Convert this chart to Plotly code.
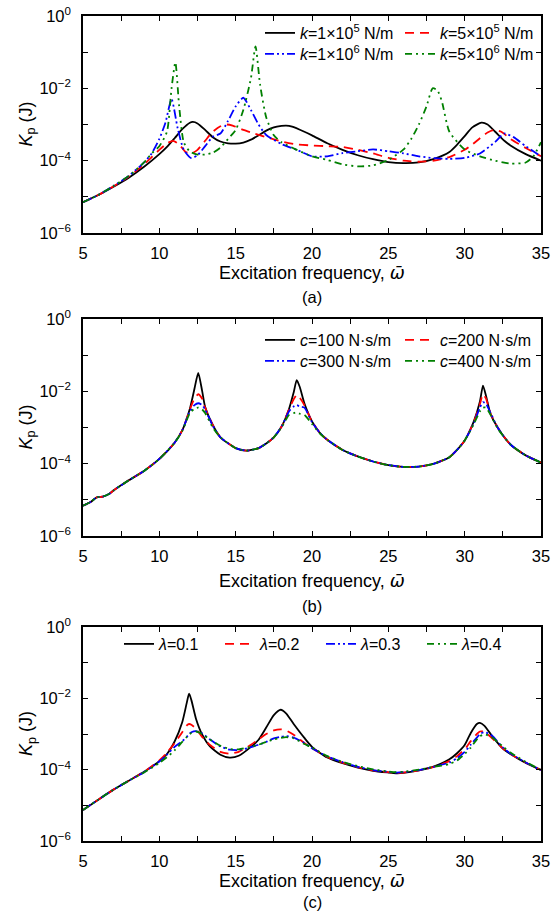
import numpy as np
import plotly.graph_objects as go

W, H = 555, 911

# ---------------- Panel (a): effect of stiffness k (values are log10 of Kp in J) ----------------
a_k1_x = [5,6,7,8,9,10,10.5,11,11.5,12,12.2,12.5,13,13.5,14,14.5,15,15.5,16,16.5,17,17.5,18,18.3,18.7,19.5,20,21,22,23,24,25,26,27,28,29,29.5,30,30.5,31.1,31.5,32,32.6,33,34,35]
a_k1_log = [-5.15,-4.95,-4.72,-4.47,-4.17,-3.82,-3.62,-3.38,-3.13,-2.95,-2.93,-2.97,-3.15,-3.35,-3.47,-3.52,-3.53,-3.5,-3.42,-3.3,-3.17,-3.08,-3.04,-3.03,-3.06,-3.2,-3.3,-3.52,-3.7,-3.85,-3.96,-4.04,-4.07,-4.05,-3.95,-3.76,-3.56,-3.32,-3.08,-2.95,-3.0,-3.2,-3.45,-3.58,-3.82,-4.0]

a_k2_x = [5,6,7,8,9,9.5,10,10.5,10.9,11.3,11.7,12.1,12.5,13,13.5,14,14.4,14.8,15.5,16,17,18,19,20,21,22,23,24,25,26,27,28,29,30,30.5,31,31.5,31.9,32.4,33,34,35]
a_k2_log = [-5.15,-4.95,-4.71,-4.44,-4.1,-3.9,-3.7,-3.52,-3.45,-3.55,-3.75,-3.8,-3.7,-3.45,-3.2,-3.05,-3.0,-3.03,-3.15,-3.22,-3.35,-3.47,-3.55,-3.58,-3.6,-3.62,-3.7,-3.8,-3.92,-4.0,-4.03,-4.0,-3.9,-3.7,-3.55,-3.38,-3.22,-3.15,-3.2,-3.4,-3.65,-3.88]

a_k3_x = [5,6,7,8,9,9.5,10,10.4,10.8,11.2,11.6,12.1,12.5,13,13.5,14,14.5,15,15.5,16,16.5,17,18,19,20,21,22,23,24,25,26,27,28,29,30,31,32,32.6,33.2,34,35]
a_k3_log = [-5.15,-4.95,-4.7,-4.42,-4.05,-3.8,-3.4,-2.95,-2.3,-3.1,-3.7,-3.93,-3.85,-3.6,-3.34,-3.25,-2.9,-2.5,-2.26,-2.6,-3.0,-3.29,-3.54,-3.7,-3.88,-3.88,-3.79,-3.74,-3.69,-3.74,-3.8,-3.88,-3.93,-3.95,-3.92,-3.8,-3.48,-3.25,-3.35,-3.6,-3.88]

a_k4_x = [5,6,7,8,9,9.5,10,10.5,10.8,11.05,11.3,11.6,12,12.5,13,13.5,14,14.5,15,15.5,16,16.3,16.6,17,17.5,18,19,20,21,22,23,24,25,26,26.5,27,27.5,27.9,28.2,28.5,29,30,31,32,33,34,34.5,35]
a_k4_log = [-5.15,-4.95,-4.7,-4.42,-4.05,-3.8,-3.6,-3.2,-2.0,-1.28,-2.5,-3.49,-3.75,-3.83,-3.83,-3.78,-3.64,-3.4,-3.15,-2.6,-1.72,-0.84,-1.9,-2.8,-3.3,-3.49,-3.7,-3.88,-3.98,-4.1,-4.16,-4.13,-3.98,-3.69,-3.4,-3.0,-2.5,-2.0,-2.05,-2.35,-3.2,-3.69,-3.88,-4.0,-4.08,-4.05,-3.88,-3.49]

a_names = ["<i>k</i>=1×10<sup>5</sup> N/m", "<i>k</i>=5×10<sup>5</sup> N/m",
           "<i>k</i>=1×10<sup>6</sup> N/m", "<i>k</i>=5×10<sup>6</sup> N/m"]

# ---------------- Panel (b): effect of damping c ----------------
b_x = [5,5.5,5.9,6.3,6.7,7,8,9,10,11,11.5,12,12.3,12.55,12.8,13,13.5,14,15,15.7,16.5,17,17.5,18,18.5,18.8,19.0,19.2,19.5,20,20.5,21,22,23,24,25,26,27,28,29,29.5,30,30.6,31.0,31.2,31.4,31.7,32.2,33,34,35]
b_c100_log = [-5.16,-5.06,-4.93,-4.91,-4.84,-4.74,-4.46,-4.2,-3.87,-3.42,-3.08,-2.48,-1.93,-1.49,-1.98,-2.43,-2.93,-3.27,-3.57,-3.64,-3.57,-3.44,-3.27,-2.98,-2.48,-2.03,-1.69,-1.88,-2.33,-2.83,-3.14,-3.34,-3.62,-3.8,-3.94,-4.04,-4.09,-4.08,-4.0,-3.82,-3.62,-3.36,-2.83,-2.28,-1.84,-2.13,-2.63,-3.03,-3.47,-3.77,-3.97]
b_c200_log = [-5.16,-5.06,-4.93,-4.91,-4.84,-4.74,-4.46,-4.2,-3.87,-3.42,-3.08,-2.5,-2.2,-2.08,-2.2,-2.45,-2.93,-3.27,-3.57,-3.64,-3.57,-3.44,-3.27,-2.98,-2.5,-2.22,-2.1,-2.18,-2.38,-2.83,-3.14,-3.34,-3.62,-3.8,-3.94,-4.04,-4.09,-4.08,-4.0,-3.82,-3.62,-3.36,-2.85,-2.35,-2.08,-2.2,-2.62,-3.03,-3.47,-3.77,-3.97]
b_c300_log = [-5.16,-5.06,-4.93,-4.91,-4.84,-4.74,-4.46,-4.2,-3.87,-3.42,-3.08,-2.55,-2.38,-2.33,-2.38,-2.5,-2.95,-3.27,-3.57,-3.64,-3.57,-3.44,-3.27,-2.98,-2.55,-2.42,-2.38,-2.42,-2.45,-2.85,-3.14,-3.34,-3.62,-3.8,-3.94,-4.04,-4.09,-4.08,-4.0,-3.82,-3.62,-3.36,-2.88,-2.45,-2.3,-2.35,-2.6,-3.03,-3.47,-3.77,-3.97]
b_c400_log = [-5.16,-5.06,-4.93,-4.91,-4.84,-4.74,-4.46,-4.2,-3.87,-3.42,-3.1,-2.6,-2.48,-2.45,-2.5,-2.6,-3.0,-3.27,-3.57,-3.64,-3.57,-3.44,-3.27,-3.0,-2.65,-2.6,-2.58,-2.62,-2.65,-2.9,-3.16,-3.34,-3.62,-3.8,-3.94,-4.04,-4.09,-4.08,-4.0,-3.82,-3.62,-3.36,-2.9,-2.55,-2.45,-2.45,-2.65,-3.05,-3.47,-3.77,-3.97]
b_names = ["<i>c</i>=100 N·s/m", "<i>c</i>=200 N·s/m", "<i>c</i>=300 N·s/m", "<i>c</i>=400 N·s/m"]

# ---------------- Panel (c): effect of lambda ----------------
c_x = [5,6,7,8,9,10,10.5,11,11.5,11.8,11.95,12.1,12.4,12.8,13.3,14,14.6,15.2,16,16.5,17,17.5,17.95,18.3,18.8,19.5,20,21,22,23,24,25,25.5,26,27,28,29,29.5,30,30.4,30.8,31.0,31.3,31.8,32.5,33,34,35]
c_l1_log = [-5.13,-4.84,-4.56,-4.31,-4.06,-3.76,-3.56,-3.21,-2.67,-2.12,-1.87,-2.05,-2.57,-3.01,-3.34,-3.58,-3.66,-3.61,-3.36,-3.16,-2.82,-2.47,-2.32,-2.42,-2.72,-3.11,-3.36,-3.66,-3.82,-3.94,-4.03,-4.08,-4.1,-4.09,-4.02,-3.91,-3.71,-3.54,-3.31,-2.97,-2.72,-2.69,-2.77,-3.06,-3.41,-3.56,-3.81,-4.01]
c_l2_log = [-5.13,-4.84,-4.56,-4.31,-4.06,-3.74,-3.52,-3.26,-2.95,-2.76,-2.72,-2.74,-2.85,-3.08,-3.3,-3.5,-3.55,-3.5,-3.3,-3.15,-3.0,-2.9,-2.87,-2.9,-3.02,-3.25,-3.4,-3.64,-3.8,-3.93,-4.02,-4.07,-4.09,-4.08,-4.02,-3.92,-3.76,-3.62,-3.43,-3.2,-3.0,-2.93,-2.94,-3.12,-3.4,-3.56,-3.8,-4.01]
c_l3_log = [-5.13,-4.84,-4.56,-4.31,-4.07,-3.77,-3.58,-3.36,-3.2,-3.08,-3.0,-2.95,-2.92,-2.98,-3.15,-3.35,-3.44,-3.45,-3.37,-3.3,-3.22,-3.12,-3.08,-3.06,-3.1,-3.25,-3.4,-3.63,-3.79,-3.92,-4.01,-4.06,-4.08,-4.07,-4.01,-3.92,-3.8,-3.68,-3.5,-3.3,-3.1,-3.0,-2.95,-3.05,-3.38,-3.55,-3.8,-4.01]
c_l4_log = [-5.13,-4.84,-4.56,-4.31,-4.08,-3.81,-3.65,-3.46,-3.22,-3.08,-3.02,-2.97,-2.93,-3.0,-3.15,-3.33,-3.42,-3.43,-3.36,-3.3,-3.22,-3.15,-3.11,-3.09,-3.12,-3.28,-3.38,-3.62,-3.78,-3.9,-3.99,-4.05,-4.07,-4.06,-4.0,-3.92,-3.84,-3.74,-3.56,-3.38,-3.15,-3.06,-3.01,-3.1,-3.35,-3.52,-3.78,-4.01]
c_names = ["<i>λ</i>=0.1", "<i>λ</i>=0.2", "<i>λ</i>=0.3", "<i>λ</i>=0.4"]

# ---------------- Axis tick labels ----------------
x_tickvals = [5, 10, 15, 20, 25, 30, 35]
x_minorvals = [7.5, 12.5, 17.5, 22.5, 27.5, 32.5]
y_tickvals = [1e-6, 1e-4, 1e-2, 1]
y_ticktext = ["10<sup>−6</sup>", "10<sup>−4</sup>", "10<sup>−2</sup>", "10<sup>0</sup>"]
y_minorvals = [1e-5, 1e-3, 1e-1]
x_title = 'Excitation frequency, <span style="font-family:DejaVu Sans"><i>ω\u0304</i></span>'
y_title = "<i>K</i><sub>p</sub> (J)"
panel_labels = ["(a)", "(b)", "(c)"]

# ---------------- Styles ----------------
FONT = "Liberation Sans, Arial, sans-serif"
colors = ["#000000", "#ff0000", "#0000ff", "#008000"]
dashes = ["solid", "9px,6px", "9px,3px,2px,3px,2px,3px", "7px,4px,2px,4px,2px,4px"]
LW = 1.8

X0, X1 = 83, 541
panels = [(16, 233), (319, 536), (627, 841)]
title_y = [272, 580, 880]
label_y = [297, 606, 902]


def fx(p):
    return p / W


def fy(p):
    return 1 - p / H


fig = go.Figure()

panel_data = [
    ([a_k1_x, a_k2_x, a_k3_x, a_k4_x], [a_k1_log, a_k2_log, a_k3_log, a_k4_log], a_names,
     ["legend", "legend", "legend2", "legend2"]),
    ([b_x] * 4, [b_c100_log, b_c200_log, b_c300_log, b_c400_log], b_names,
     ["legend3", "legend3", "legend4", "legend4"]),
    ([c_x] * 4, [c_l1_log, c_l2_log, c_l3_log, c_l4_log], c_names,
     ["legend5"] * 4),
]

for p, (xs, logs, names, legs) in enumerate(panel_data):
    sfx = "" if p == 0 else str(p + 1)
    for s in range(4):
        fig.add_trace(go.Scatter(
            x=xs[s], y=np.power(10.0, np.array(logs[s])), mode="lines", name=names[s],
            line=dict(color=colors[s], dash=dashes[s], width=LW, shape="spline", smoothing=0.6),
            xaxis="x" + sfx, yaxis="y" + sfx, legend=legs[s], showlegend=True,
        ))

axis_common = dict(showline=True, linecolor="black", linewidth=1.5, mirror="ticks",
                   ticks="inside", ticklen=5, tickwidth=1.2, tickcolor="black",
                   showgrid=False, zeroline=False, automargin=False,
                   tickfont=dict(family=FONT, size=16.5, color="black"))

layout = dict(width=W, height=H, margin=dict(l=0, r=0, t=0, b=0),
              paper_bgcolor="white", plot_bgcolor="white", showlegend=True,
              font=dict(family=FONT, color="black"))

for p, (top, bot) in enumerate(panels):
    sfx = "" if p == 0 else str(p + 1)
    layout["xaxis" + sfx] = dict(axis_common, domain=[fx(X0), fx(X1)], anchor="y" + sfx,
                                 range=[5, 35], tickmode="array", tickvals=x_tickvals,
                                 ticklabelstandoff=4,
                                 minor=dict(tickmode="array", tickvals=x_minorvals, ticks="inside",
                                            ticklen=5, tickwidth=1.2, tickcolor="black"))
    layout["yaxis" + sfx] = dict(axis_common, domain=[fy(bot), fy(top)], anchor="x" + sfx,
                                 type="log", range=[-6, 0], tickmode="array",
                                 tickvals=y_tickvals, ticktext=y_ticktext, ticklabelstandoff=7,
                                 minor=dict(tickmode="array", tickvals=y_minorvals, ticks="inside",
                                            ticklen=5, tickwidth=1.2, tickcolor="black"))

leg_common = dict(orientation="h", xanchor="left", yanchor="middle", bgcolor="rgba(0,0,0,0)",
                  borderwidth=0, font=dict(family=FONT, size=16, color="black"),
                  entrywidthmode="pixels", itemclick=False, itemdoubleclick=False)
layout["legend"] = dict(leg_common, x=fx(260), y=fy(33), entrywidth=95)
layout["legend2"] = dict(leg_common, x=fx(260), y=fy(54), entrywidth=95)
layout["legend3"] = dict(leg_common, x=fx(260), y=fy(340), entrywidth=95)
layout["legend4"] = dict(leg_common, x=fx(260), y=fy(361), entrywidth=95)
layout["legend5"] = dict(leg_common, x=fx(119), y=fy(644), entrywidth=56)

ann = []
for p, (top, bot) in enumerate(panels):
    cx = fx((X0 + X1) / 2)
    ann.append(dict(text=x_title, x=cx, y=fy(title_y[p]),
                    xref="paper", yref="paper", showarrow=False, xanchor="center", yanchor="middle",
                    font=dict(family=FONT, size=18, color="black")))
    ann.append(dict(text=panel_labels[p], x=cx, y=fy(label_y[p]), xref="paper", yref="paper",
                    showarrow=False, xanchor="center", yanchor="middle",
                    font=dict(family=FONT, size=16.5, color="black")))
    ann.append(dict(text=y_title, x=fx(27), y=fy((top + bot) / 2),
                    xref="paper", yref="paper", showarrow=False, textangle=-90,
                    xanchor="center", yanchor="middle",
                    font=dict(family=FONT, size=18, color="black")))
layout["annotations"] = ann

fig.update_layout(**layout)
fig.write_html("out.html")
